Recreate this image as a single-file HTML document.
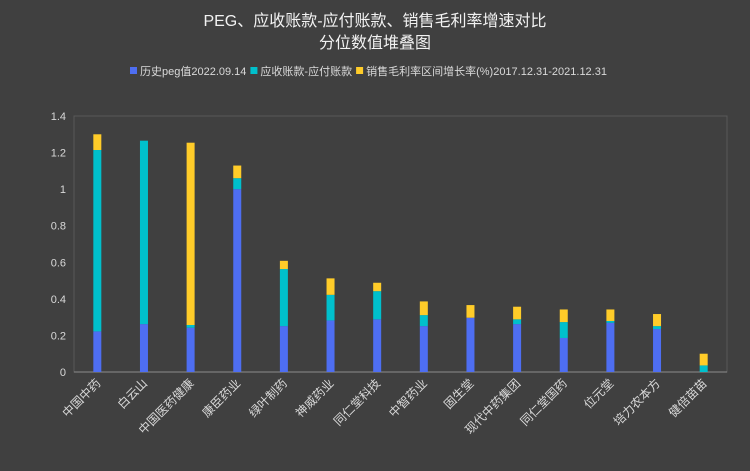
<!DOCTYPE html>
<html><head><meta charset="utf-8"><style>
html,body{margin:0;padding:0;background:#404040;}
svg{display:block;font-family:"Liberation Sans","Noto Sans CJK SC",sans-serif;}
</style></head><body>
<svg id="chart" width="750" height="471" viewBox="0 0 750 471">
<rect x="0" y="0" width="750" height="471" fill="#404040"/>
<text x="375" y="26" text-anchor="middle" fill="#f2f2f2" font-size="16">PEG、应收账款-应付账款、销售毛利率增速对比</text>
<text x="375" y="48" text-anchor="middle" fill="#f2f2f2" font-size="16">分位数值堆叠图</text>
<g id="legend"></g>
<g id="grid"></g>
<g id="bars"></g>
<g id="labels"></g>
</svg>
<script>
const categories=["中国中药","白云山","中国医药健康","康臣药业","绿叶制药","神威药业","同仁堂科技","中智药业","固生堂","现代中药集团","同仁堂国药","位元堂","培力农本方","健倍苗苗"];
const pegValues=[0.222,0.262,0.242,1.0,0.251,0.282,0.288,0.251,0.297,0.262,0.186,0.269,0.235,0];
const arValues=[0.992,1.003,0.015,0.06,0.312,0.14,0.154,0.06,0,0.026,0.087,0.01,0.016,0.036];
const marginValues=[0.086,0,0.997,0.069,0.045,0.09,0.046,0.075,0.069,0.069,0.069,0.063,0.066,0.064];
const yTicks=[0,0.2,0.4,0.6,0.8,1,1.2,1.4];
const yTickLabels=["0","0.2","0.4","0.6","0.8","1","1.2","1.4"];
const seriesNames=["历史peg值2022.09.14","应收账款-应付账款","销售毛利率区间增长率(%)2017.12.31-2021.12.31"];
const colors=["#4e6ef2","#00c0cc","#ffcc29"];
const NS="http://www.w3.org/2000/svg";
const L=74,R=727,T=116,B=372,yMax=1.4;
const y=v=>B-(v/yMax)*(B-T);
const band=(R-L)/categories.length;
const xc=i=>L+band*(i+0.5);
function mk(tag,attrs,parent){const e=document.createElementNS(NS,tag);for(const k in attrs)e.setAttribute(k,attrs[k]);parent.appendChild(e);return e;}
const grid=document.getElementById('grid');
const frame=mk('rect',{x:L,y:T,width:R-L,height:B-T,fill:'none',stroke:'#595959','stroke-width':1},grid);


yTicks.forEach((t,i)=>{
  const tx=mk('text',{x:L-8,y:y(t)+4,'text-anchor':'end',fill:'#d9d9d9','font-size':11},grid);
  tx.textContent=yTickLabels[i];
  
  
});
const axis=mk('line',{x1:L,x2:R,y1:B,y2:B,stroke:'#8c8c8c','stroke-width':1},grid);


const bars=document.getElementById('bars');
const series=[pegValues,arValues,marginValues];
const bw=8;
categories.forEach((c,i)=>{
  let base=0;
  series.forEach((s,k)=>{
    const v=s[i];
    if(v>0){
      const r=mk('rect',{x:xc(i)-bw/2,y:y(base+v),width:bw,height:y(base)-y(base+v),fill:colors[k]},bars);
      
      
    }
    base+=v;
  });
  const lb=mk('text',{x:0,y:0,'text-anchor':'end',fill:'#d9d9d9','font-size':12,transform:`translate(${xc(i)+4},${B+12}) rotate(-45)`},document.getElementById('labels'));
  lb.textContent=c;
  
  
});
const leg=document.getElementById('legend');
let lx=130;
seriesNames.forEach((n,k)=>{
  const sq=mk('rect',{x:lx,y:67,width:7,height:7,fill:colors[k]},leg);
  
  
  const t=mk('text',{x:lx+10,y:75,fill:'#d9d9d9','font-size':11},leg);
  t.textContent=n;
  
  
  lx+=10+t.getComputedTextLength()+4;
});
</script>
</body></html>
